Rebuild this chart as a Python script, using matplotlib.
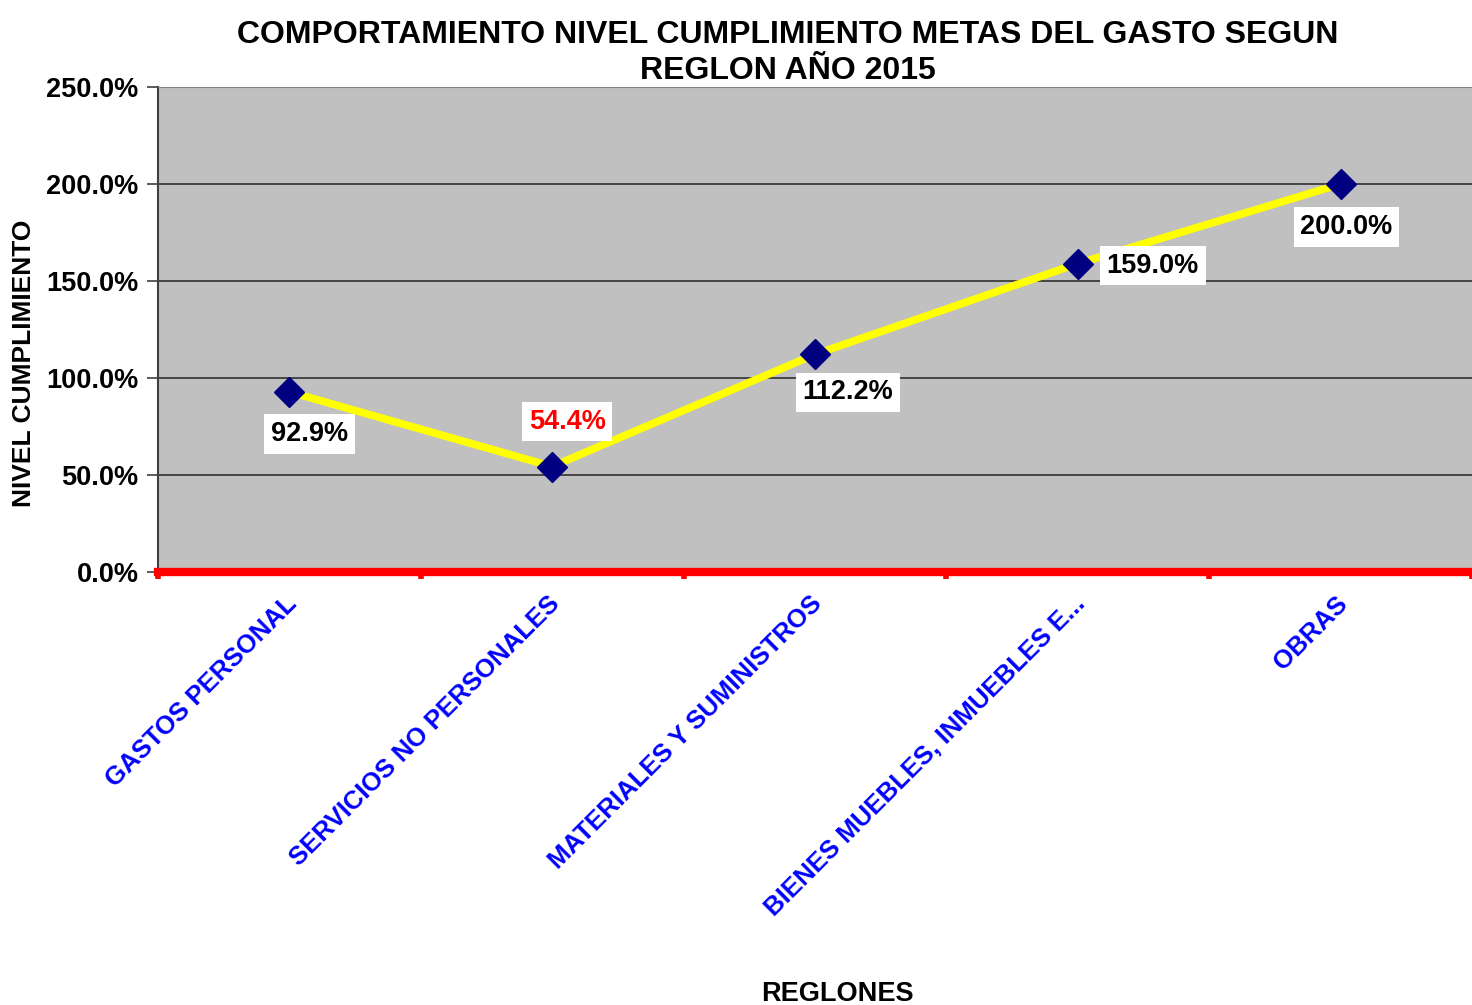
import matplotlib.pyplot as plt
import matplotlib.transforms as mtransforms
from matplotlib.ticker import FuncFormatter

plt.rcParams['font.family'] = ['Liberation Sans', 'DejaVu Sans']
plt.rcParams['font.weight'] = 'bold'

categories = ['GASTOS PERSONAL', 'SERVICIOS NO PERSONALES', 'MATERIALES Y SUMINISTROS',
              'BIENES MUEBLES, INMUEBLES E...', 'OBRAS']
values = [92.9, 54.4, 112.2, 159.0, 200.0]
label_colors = ['black', 'red', 'black', 'black', 'black']
# label offsets in pixels from the point
label_offsets = [(20, -42), (15, 45), (33, -38), (75, -2), (6, -43)]

fig = plt.figure(figsize=(14.72, 10.05), dpi=100)
ax = fig.add_axes([0.1073, 0.4308, 0.8927, 0.4826])
ax.set_facecolor('#C0C0C0')

x = list(range(len(categories)))
ax.plot(x, values, color='#FFFF00', linewidth=5.5, zorder=3)
ax.plot(x, values, linestyle='none', marker='D', markersize=15,
        color='#000080', zorder=4)

for xi, v, c, off in zip(x, values, label_colors, label_offsets):
    ax.annotate(f'{v:.1f}%', (xi, v), xytext=off, textcoords='offset pixels',
                ha='center', va='center', fontsize=19.5, fontweight='bold', color=c,
                bbox=dict(boxstyle='square,pad=0.25', fc='white', ec='none'), zorder=5)

ax.set_ylim(0, 250)
ax.set_xlim(-0.5, len(categories) - 0.5)
ax.set_yticks([0, 50, 100, 150, 200, 250])
ax.yaxis.set_major_formatter(FuncFormatter(lambda v, p: f'{v:.1f}%'))
ax.tick_params(axis='y', labelsize=19.5, length=8, width=1.2, color='#404040', pad=6)
ax.grid(axis='y', color='#303030', linewidth=1.2)
ax.set_axisbelow(True)

# category boundary ticks (red) and labels between them
ax.set_xticks([i - 0.5 for i in range(len(categories) + 1)])
ax.set_xticklabels([])
ax.tick_params(axis='x', which='major', length=5, width=4, color='red')
ax.set_xticks(x, minor=True)
ax.set_xticklabels(categories, minor=True, rotation=45, ha='right',
                   rotation_mode='anchor', color='#0000FF', fontsize=18.5, fontweight='bold')
ax.tick_params(axis='x', which='minor', length=0, pad=14)
shift = mtransforms.ScaledTranslation(-5 / 100, 0, fig.dpi_scale_trans)
for lbl in ax.get_xticklabels(minor=True):
    lbl.set_transform(lbl.get_transform() + shift)

ax.axhline(0, color='red', linewidth=6, zorder=6, clip_on=False)
ax.spines['left'].set_color('#404040')
ax.spines['left'].set_linewidth(1.5)
ax.spines['top'].set_color('#808080')
ax.spines['right'].set_visible(False)
ax.spines['bottom'].set_visible(False)

ax.set_ylabel('NIVEL CUMPLIMIENTO', fontsize=19, fontweight='bold')
ax.yaxis.set_label_coords(-0.0925, 0.431)
fig.text(0.569, -0.002, 'REGLONES', ha='center', va='bottom', fontsize=19.5, fontweight='bold')
fig.text(0.535, 0.98, 'COMPORTAMIENTO NIVEL CUMPLIMIENTO METAS DEL GASTO SEGUN\nREGLON AÑO 2015',
         ha='center', va='top', fontsize=23, fontweight='bold', linespacing=1.25)

fig.savefig('out.png', dpi=100)
